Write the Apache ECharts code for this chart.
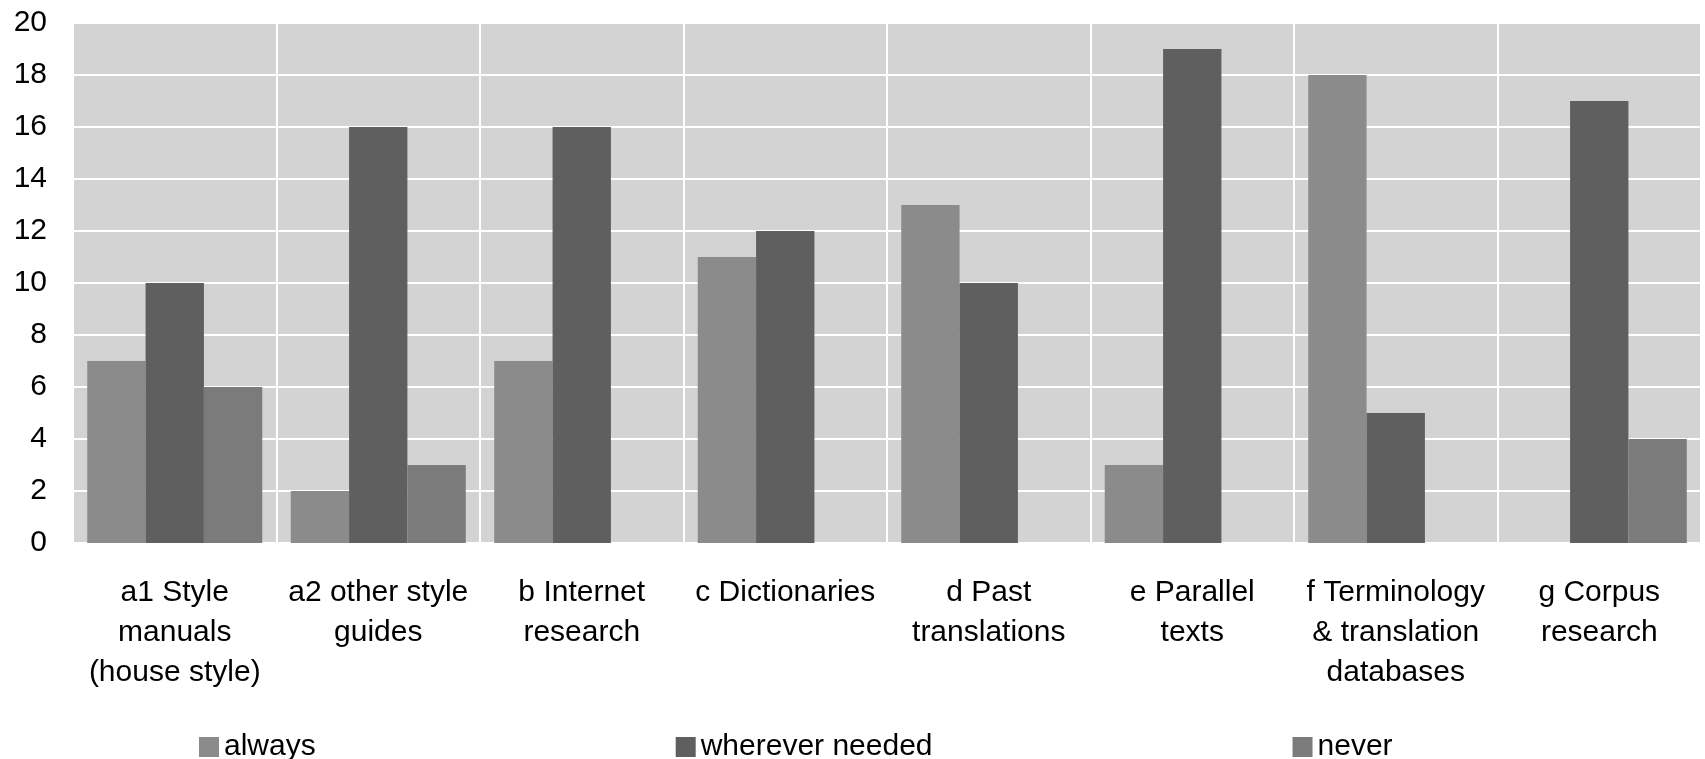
<!DOCTYPE html>
<html>
<head>
<meta charset="utf-8">
<script src="https://cdn.jsdelivr.net/npm/echarts@6/dist/echarts.min.js"></script>
<style>
  html, body { margin: 0; padding: 0; background: #ffffff; }
  #chart { width: 1705px; height: 759px; }
</style>
</head>
<body>
<div id="chart"></div>
<script>
// Resource categories (wrapped as printed under each group)
const categories = [
  'a1 Style\nmanuals\n(house style)',
  'a2 other style\nguides',
  'b Internet\nresearch',
  'c Dictionaries',
  'd Past\ntranslations',
  'e Parallel\ntexts',
  'f Terminology\n& translation\ndatabases',
  'g Corpus\nresearch'
];

// Number of respondents per frequency answer
const always   = [7, 2, 7, 11, 13, 3, 18, 0];
const wherever = [10, 16, 16, 12, 10, 19, 5, 17];
const never    = [6, 3, 0, 0, 0, 0, 0, 4];

const seriesNames = ['always', 'wherever needed', 'never'];
const seriesColors = ['#8b8b8b', '#5f5f5f', '#7b7b7b'];

const FONT = '"Liberation Sans", Arial, sans-serif';

const chart = echarts.init(document.getElementById('chart'), null, { renderer: 'canvas' });

function bar(name, data, color) {
  return {
    name: name,
    type: 'bar',
    data: data,
    barGap: '0%',
    barCategoryGap: '14%',
    itemStyle: { color: color },
    emphasis: { disabled: true }
  };
}

chart.setOption({
  animation: false,
  backgroundColor: '#ffffff',
  grid: {
    left: 73, right: 4, top: 23, bottom: 216,
    show: true, backgroundColor: '#d3d3d3', borderWidth: 0
  },
  legend: {
    left: 194, top: 727,
    itemWidth: 20, itemHeight: 20, itemGap: 360,
    icon: 'rect',
    textStyle: { fontFamily: FONT, fontSize: 30, color: '#000000' },
    data: seriesNames
  },
  xAxis: {
    type: 'category',
    data: categories,
    axisLine: { show: false },
    axisTick: { show: false },
    splitLine: { show: true, lineStyle: { color: '#ffffff', width: 2 } },
    axisLabel: {
      interval: 0, margin: 30,
      fontFamily: FONT, fontSize: 30, lineHeight: 40,
      color: '#000000', align: 'center'
    }
  },
  yAxis: {
    type: 'value',
    min: 0, max: 20, interval: 2,
    axisLine: { show: false },
    axisTick: { show: false },
    splitLine: { show: true, lineStyle: { color: '#ffffff', width: 2 } },
    axisLabel: { margin: 26, fontFamily: FONT, fontSize: 30, color: '#000000' }
  },
  series: [
    bar(seriesNames[0], always, seriesColors[0]),
    bar(seriesNames[1], wherever, seriesColors[1]),
    bar(seriesNames[2], never, seriesColors[2])
  ]
});
</script>
</body>
</html>
